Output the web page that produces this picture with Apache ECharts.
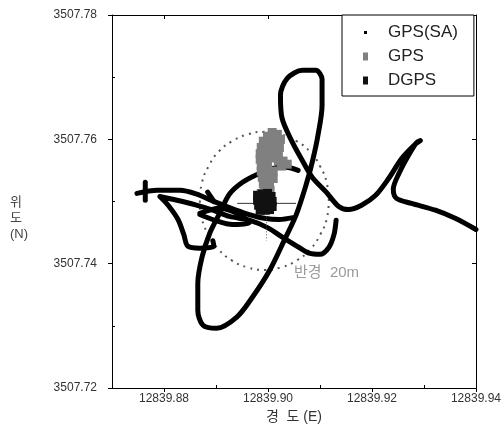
<!DOCTYPE html>
<html><head><meta charset="utf-8">
<script src="https://cdn.jsdelivr.net/npm/echarts@6/dist/echarts.min.js"></script>
<style>html,body{margin:0;padding:0;background:#fff}#c{width:504px;height:441px}</style>
</head><body><div id="c"></div>
<script>
// ---- axis ticks ----
const xTicks = [12839.88, 12839.90, 12839.92, 12839.94];
const xMinorTicks = [12839.87, 12839.89, 12839.91, 12839.93];
const yTicks = [3507.72, 3507.74, 3507.76, 3507.78];
const yMinorTicks = [3507.73, 3507.75, 3507.77];
const seriesNames = ['GPS(SA)', 'GPS', 'DGPS'];

// ---- GPS(SA) track (longitude, latitude), several traced pieces ----
const saTrackA = [
  [12839.9400,3507.7455],[12839.9360,3507.7473],[12839.9322,3507.7486],[12839.9276,3507.7497],
  [12839.9247,3507.7505],[12839.9241,3507.7520],[12839.9253,3507.7547],[12839.9270,3507.7574],
  [12839.9285,3507.7594],[12839.9293,3507.7598],[12839.9283,3507.7592],[12839.9257,3507.7569],
  [12839.9232,3507.7537],[12839.9207,3507.7510],[12839.9180,3507.7494],[12839.9155,3507.7487],
  [12839.9136,3507.7492],[12839.9112,3507.7515],[12839.9085,3507.7539],[12839.9066,3507.7566],
  [12839.9047,3507.7595],[12839.9027,3507.7634],[12839.9024,3507.7671],[12839.9037,3507.7698],
  [12839.9066,3507.7711],[12839.9092,3507.7711],[12839.9104,3507.7697],[12839.9104,3507.7655],
  [12839.9096,3507.7606],[12839.9085,3507.7563],[12839.9073,3507.7526],[12839.9054,3507.7478],
  [12839.9031,3507.7437],[12839.9003,3507.7389],[12839.8970,3507.7346],[12839.8940,3507.7314],
  [12839.8901,3507.7296],[12839.8875,3507.7301],[12839.8865,3507.7325],[12839.8865,3507.7368],
  [12839.8873,3507.7410],[12839.8888,3507.7449],[12839.8907,3507.7481],[12839.8926,3507.7512],
  [12839.8951,3507.7531],[12839.8983,3507.7545],[12839.9008,3507.7553],[12839.9035,3507.7555],
  [12839.9058,3507.7550]
];
const saTrackB = [
  [12839.9131,3507.7470],[12839.9127,3507.7447],[12839.9117,3507.7426],[12839.9100,3507.7415],
  [12839.9079,3507.7417],[12839.9060,3507.7426],[12839.9029,3507.7442],[12839.8999,3507.7458],
  [12839.8964,3507.7470],[12839.8926,3507.7476],[12839.8894,3507.7486],[12839.8859,3507.7495],
  [12839.8825,3507.7502],[12839.8792,3507.7508],[12839.8808,3507.7494],[12839.8827,3507.7471],
  [12839.8838,3507.7447],[12839.8846,3507.7428],[12839.8869,3507.7425],[12839.8896,3507.7428],
  [12839.8894,3507.7437]
];
const saTrackC = [
  [12839.8748,3507.7513],[12839.8787,3507.7518],[12839.8831,3507.7518],[12839.8863,3507.7512],
  [12839.8888,3507.7503],[12839.8911,3507.7495],[12839.8936,3507.7487],[12839.8964,3507.7479],
  [12839.8993,3507.7473],[12839.9022,3507.7471],[12839.9048,3507.7474]
];
const saCross = [[12839.8764,3507.7531],[12839.8764,3507.7502]];
const saLoop = [
  [12839.8869,3507.7481],[12839.8907,3507.7489],[12839.8945,3507.7479],[12839.8964,3507.7466],
  [12839.8932,3507.7463],[12839.8897,3507.7470],[12839.8869,3507.7479]
];
const saBump = [[12839.8884,3507.7515],[12839.8896,3507.7500]];

// ---- GPS points ----
const gpsPoints = [
  [12839.9008,3507.7611],[12839.9018,3507.7608],[12839.8999,3507.7605],[12839.9012,3507.7602],
  [12839.9024,3507.7600],[12839.8991,3507.7597],[12839.9003,3507.7595],[12839.9016,3507.7594],
  [12839.8987,3507.7587],[12839.8999,3507.7586],[12839.9010,3507.7586],[12839.9022,3507.7587],
  [12839.8985,3507.7577],[12839.8997,3507.7576],[12839.9008,3507.7576],[12839.9020,3507.7579],
  [12839.8985,3507.7568],[12839.8997,3507.7566],[12839.9020,3507.7566],[12839.9029,3507.7565],
  [12839.9037,3507.7560],[12839.9026,3507.7557],[12839.8987,3507.7558],[12839.8999,3507.7557],
  [12839.8987,3507.7549],[12839.8999,3507.7547],[12839.9010,3507.7549],[12839.8989,3507.7539],
  [12839.9001,3507.7537],[12839.9010,3507.7537],[12839.8991,3507.7529],[12839.9003,3507.7528],
  [12839.8993,3507.7520],[12839.9004,3507.7518],[12839.8987,3507.7513],[12839.9014,3507.7570],
  [12839.8993,3507.7582],[12839.9003,3507.7542],[12839.8995,3507.7533]
];
const gpsThinH = [[12839.8941,3507.7497],[12839.9054,3507.7497]];
const gpsThinV = [[12839.8997,3507.7481],[12839.8997,3507.7437]];

// ---- DGPS points ----
const dgpsPoints = [
  [12839.8980,3507.7510],[12839.8989,3507.7512],[12839.8999,3507.7513],[12839.9006,3507.7508],
  [12839.8980,3507.7502],[12839.8989,3507.7502],[12839.8999,3507.7502],[12839.9008,3507.7500],
  [12839.8982,3507.7494],[12839.8991,3507.7494],[12839.9001,3507.7494],[12839.9008,3507.7492],
  [12839.8985,3507.7486],[12839.8995,3507.7486],[12839.9003,3507.7487]
];

// ---- 20 m radius circle ----
const radiusCircle = [
  [12839.9117,3507.7501],[12839.9113,3507.7530],[12839.9100,3507.7557],[12839.9081,3507.7580],
  [12839.9055,3507.7597],[12839.9025,3507.7608],[12839.8993,3507.7612],[12839.8961,3507.7608],
  [12839.8931,3507.7597],[12839.8905,3507.7580],[12839.8886,3507.7557],[12839.8873,3507.7530],
  [12839.8869,3507.7501],[12839.8873,3507.7472],[12839.8886,3507.7446],[12839.8905,3507.7423],
  [12839.8931,3507.7405],[12839.8961,3507.7394],[12839.8993,3507.7390],[12839.9025,3507.7394],
  [12839.9055,3507.7405],[12839.9081,3507.7423],[12839.9100,3507.7446],[12839.9113,3507.7472],
  [12839.9117,3507.7501]
];

const FONT = 'Arial, "Liberation Sans", "Noto Sans CJK KR", sans-serif';
const chart = echarts.init(document.getElementById('c'));

const series = [];
series.push({name:'ring', type:'line', data:radiusCircle, smooth:true, symbol:'none', silent:true,
  lineStyle:{color:'#555', width:2, type:[2,5]}, z:1});
[saTrackA, saTrackB, saTrackC, saCross, saLoop, saBump].forEach(seg => series.push({
  name:seriesNames[0], type:'line', data:seg, smooth:0.3, symbol:'none', silent:true,
  lineStyle:{color:'#000', width:5, cap:'round', join:'round'}, itemStyle:{color:'#000'}, z:3}));
series.push({name:seriesNames[1], type:'scatter', data:gpsPoints, symbol:'rect', symbolSize:9,
  itemStyle:{color:'#808080', opacity:1}, z:4, silent:true});
series.push({name:'thinH', type:'line', data:gpsThinH, symbol:'none', silent:true,
  lineStyle:{color:'#333', width:1}, z:4});
series.push({name:'thinV', type:'line', data:gpsThinV, symbol:'none', silent:true,
  lineStyle:{color:'#555', width:1, type:[1,2]}, z:4});
series.push({name:seriesNames[2], type:'scatter', data:dgpsPoints, symbol:'rect', symbolSize:9,
  itemStyle:{color:'#111', opacity:1}, z:5, silent:true});

const axisLineStyle = {color:'#000', width:1};
const option = {
  backgroundColor:'#fff',
  animation:false,
  grid:{left:112, right:26, top:15, bottom:53, show:false},
  legend:{
    orient:'vertical', left:342, top:15,
    data:[
      {name:seriesNames[0], icon:'path://M0,0M5,8M1,2.5h3v3h-3z'},
      {name:seriesNames[1], icon:'rect'},
      {name:seriesNames[2], icon:'rect'}
    ],
    itemWidth:5, itemHeight:8, itemGap:7,
    padding:[9,16,7,21],
    backgroundColor:'#fff', borderColor:'#000', borderWidth:1, borderRadius:0,
    textStyle:{fontFamily:FONT, fontSize:17, color:'#222', padding:[0,0,0,15], lineHeight:17},
    selectedMode:false
  },
  xAxis:[
    {type:'value', min:12839.87, max:12839.94, position:'bottom',
     name:'경  도 (E)', nameLocation:'middle', nameGap:17,
     nameTextStyle:{fontFamily:FONT, fontSize:14, color:'#333'},
     axisLine:{show:true, lineStyle:axisLineStyle},
     axisTick:{show:true, inside:false, length:4, customValues:xTicks, lineStyle:axisLineStyle},
     axisLabel:{show:true, customValues:xTicks, margin:5, fontFamily:FONT, fontSize:12, color:'#333',
       formatter:v=>v.toFixed(2)},
     splitLine:{show:false}},
    {type:'value', min:12839.87, max:12839.94, position:'bottom',
     axisLine:{show:false},
     axisTick:{show:true, inside:true, length:3, customValues:xMinorTicks, lineStyle:axisLineStyle},
     axisLabel:{show:false}, splitLine:{show:false}},
    {type:'value', min:12839.87, max:12839.94, position:'top',
     axisLine:{show:true, lineStyle:axisLineStyle},
     axisTick:{show:true, inside:true, length:4, customValues:xTicks, lineStyle:axisLineStyle},
     axisLabel:{show:false}, splitLine:{show:false}}
  ],
  yAxis:[
    {type:'value', min:3507.72, max:3507.78, position:'left',
     axisLine:{show:true, lineStyle:axisLineStyle},
     axisTick:{show:true, inside:false, length:4, customValues:yTicks, lineStyle:axisLineStyle},
     axisLabel:{show:true, customValues:yTicks, margin:15, fontFamily:FONT, fontSize:12, color:'#333',
       formatter:v=>v.toFixed(2)},
     splitLine:{show:false}},
    {type:'value', min:3507.72, max:3507.78, position:'left',
     axisLine:{show:false},
     axisTick:{show:true, inside:true, length:3, customValues:yMinorTicks, lineStyle:axisLineStyle},
     axisLabel:{show:false}, splitLine:{show:false}},
    {type:'value', min:3507.72, max:3507.78, position:'right',
     axisLine:{show:true, lineStyle:axisLineStyle},
     axisTick:{show:true, inside:true, length:4, customValues:yTicks, lineStyle:axisLineStyle},
     axisLabel:{show:false}, splitLine:{show:false}}
  ],
  graphic:[
    {type:'text', left:10, top:194, silent:true,
     style:{text:'위\n도\n(N)', fill:'#444', font:'13px '+FONT, lineHeight:16, align:'center'}},
    {type:'text', left:294, top:265, silent:true,
     style:{text:'반경  20m', fill:'#9a9a9a', font:'15px '+FONT}}
  ],
  series:series
};
chart.setOption(option);
</script>
</body></html>
